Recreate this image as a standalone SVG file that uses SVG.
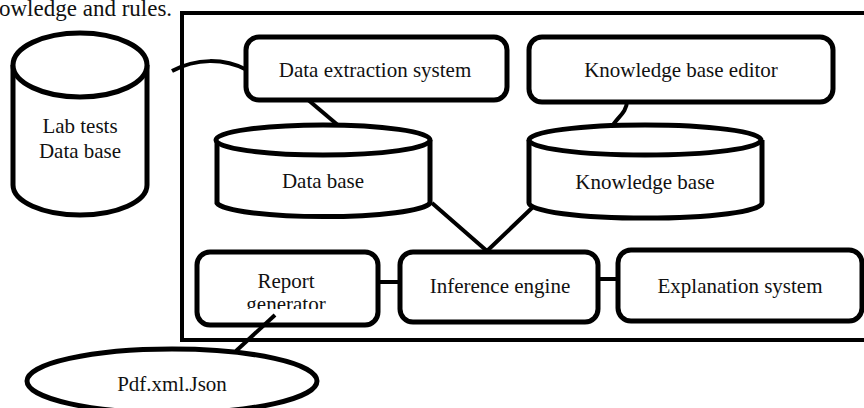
<svg xmlns="http://www.w3.org/2000/svg" width="864" height="408" viewBox="0 0 864 408" font-family="'Liberation Serif', 'Times New Roman', serif">
<defs>
<style>
text{font-family:"Liberation Serif","Times New Roman",serif;font-size:21px;fill:#111;text-anchor:middle}
.box{fill:#fff;stroke:#000;stroke-width:5}
.shape{fill:#fff;stroke:#000;stroke-width:5}
.conn{fill:none;stroke:#000;stroke-width:4}
.frame{fill:none;stroke:#000;stroke-width:4}
</style>
<clipPath id="rgclip"><rect x="190" y="250" width="200" height="59"/></clipPath>
</defs>
<rect width="864" height="408" fill="#fff"/>
<text x="-1" y="16" style="text-anchor:start;font-size:23px">owledge and rules.</text>
<rect class="frame" x="182" y="13" width="700" height="327"/>
<g id="connectors">
<path class="conn" d="M172,71 C196,58 224,58 247,70"/>
<path class="conn" d="M307,99 L339,126"/>
<path class="conn" d="M627,101 C627,113 616,118 612,127"/>
<path class="conn" d="M432,203 L487,251 L534,206"/>
<path class="conn" d="M378,282 L401,282"/>
<path class="conn" d="M598,279 L619,279"/>
</g>
<g id="lab-tests-db">
<path class="shape" d="M13,65 L13,185 A67,30 0 0 0 147,185 L147,65"/>
<ellipse class="shape" cx="80" cy="65" rx="67" ry="32"/>
<text x="80" y="133">Lab tests</text>
<text x="80" y="158">Data base</text>
</g>
<g id="data-extraction-system">
<rect class="box" x="246" y="37" width="261" height="63" rx="13"/>
<text x="375" y="77">Data extraction system</text>
</g>
<g id="knowledge-base-editor">
<rect class="box" x="529" y="37" width="304" height="65" rx="13"/>
<text x="681" y="77">Knowledge base editor</text>
</g>
<g id="data-base">
<path class="shape" d="M217,140 L217,203 A107,15 0 0 0 430,203 L430,140"/>
<ellipse class="shape" cx="323" cy="140" rx="107" ry="15"/>
<text x="323" y="188">Data base</text>
</g>
<g id="knowledge-base">
<path class="shape" d="M529,140 L529,203 A116,15 0 0 0 762,203 L762,140"/>
<ellipse class="shape" cx="645" cy="140" rx="116" ry="15"/>
<text x="645" y="189">Knowledge base</text>
</g>
<g id="report-generator">
<rect class="box" x="197" y="252" width="181" height="73" rx="13"/>
<text x="286" y="288">Report</text>
<text x="286" y="311" clip-path="url(#rgclip)">generator</text>
</g>
<g id="inference-engine">
<rect class="box" x="400" y="252" width="198" height="70" rx="13"/>
<text x="500" y="293">Inference engine</text>
</g>
<g id="explanation-system">
<rect class="box" x="618" y="250" width="244" height="71" rx="13"/>
<text x="740" y="293">Explanation system</text>
</g>
<g id="pdf-xml-json">
<ellipse class="shape" cx="172" cy="381" rx="145" ry="32"/>
<text x="172" y="391">Pdf.xml.Json</text>
</g>
<g id="connectors-front">
<path class="conn" d="M275,315 L236,351"/>
</g>
</svg>
